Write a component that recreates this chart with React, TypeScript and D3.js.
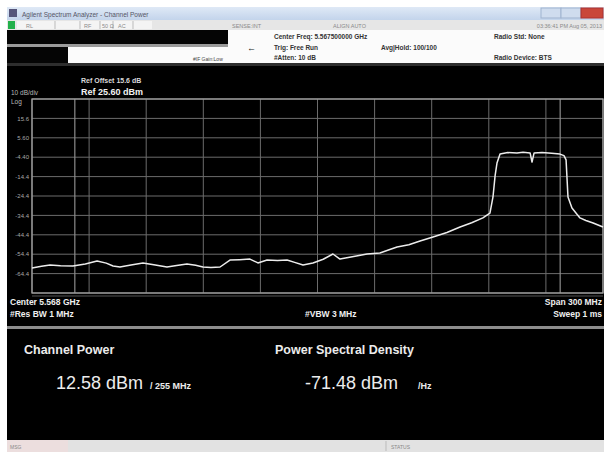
import React, { useEffect, useRef } from 'react';
import * as d3 from 'd3';

// trace (frequency in MHz, level in dBm)
const traceFreqMHz = [
  5418, 5423, 5427.5, 5433, 5439.5, 5446, 5452.2, 5457, 5460.6, 5464.2, 5470, 5476.3, 5482,
  5488.9, 5494, 5499.4, 5504, 5507.8, 5512, 5516.8, 5522, 5527, 5532.5, 5536.7, 5541.5, 5547,
  5552, 5556, 5560.4, 5565.6, 5571, 5576.1, 5579.8, 5587, 5594, 5600.8, 5606, 5609.8, 5616,
  5621.9, 5628.7, 5636, 5642.9, 5649, 5654.9, 5658.6, 5660.2, 5661.3, 5662.3, 5663.9, 5668,
  5672.8, 5676, 5679.7, 5680.7, 5681.8, 5686, 5691, 5695.4, 5697.5, 5698.6, 5699.6, 5701.7,
  5705.9, 5709, 5712.8, 5718,
];
const traceDbm = [
  -61.5, -60.6, -60.0, -60.3, -60.5, -59.4, -57.9, -59.0, -60.5, -61.0, -60.0, -58.9, -59.8,
  -61.0, -60.2, -59.4, -60.1, -61.0, -61.2, -61.0, -57.4, -57.2, -56.9, -58.9, -57.4, -57.6,
  -57.4, -58.6, -60.0, -58.9, -57.0, -54.3, -56.9, -55.6, -54.3, -53.8, -52.0, -50.7, -49.5,
  -47.6, -45.5, -43.2, -40.4, -38.2, -35.7, -33.2, -24.9, -14.0, -7.4, -2.8, -2.0, -2.2,
  -1.9, -2.2, -6.9, -2.2, -2.0, -2.4, -2.8, -3.6, -5.8, -24.9, -30.6, -35.7, -37.0, -38.3,
  -40.4,
];

const yTickLabels = ['15.6', '5.60', '-4.40', '-14.4', '-24.4', '-34.4', '-44.4', '-54.4', '-64.4'];

const refLevelDbm = 25.6;
const dbPerDiv = 10;
const centerMHz = 5568;
const spanMHz = 300;
const channelBwMHz = 255;

const FONT = '"Liberation Sans", Arial, sans-serif';

export default function App() {
  const svgRef = useRef<SVGSVGElement>(null);

  useEffect(() => {
    if (!svgRef.current) return;
    const svg = d3.select(svgRef.current);
    svg.selectAll('*').remove();

    // window chrome
    svg.append('rect').attr('x', 7).attr('y', 7).attr('width', 597).attr('height', 445).attr('fill', '#dcdcdc');

    const defs = svg.append('defs');
    const tg = defs.append('linearGradient').attr('id', 'titlebar').attr('x1', 0).attr('x2', 0).attr('y1', 0).attr('y2', 1);
    tg.append('stop').attr('offset', '0%').attr('stop-color', '#dfe9f6');
    tg.append('stop').attr('offset', '100%').attr('stop-color', '#c3d4eb');

    svg.append('rect').attr('x', 7).attr('y', 7).attr('width', 597).attr('height', 13).attr('fill', 'url(#titlebar)');
    svg.append('rect').attr('x', 9).attr('y', 9).attr('width', 8).attr('height', 8).attr('fill', '#55557a');
    svg.append('text').attr('x', 22).attr('y', 16.5).attr('font-size', 6.5).attr('fill', '#556').attr('font-family', FONT)
      .text('Agilent Spectrum Analyzer - Channel Power');

    // window buttons
    svg.append('rect').attr('x', 541).attr('y', 8).attr('width', 20).attr('height', 10).attr('fill', '#cfdcee').attr('stroke', '#9fb3cf');
    svg.append('rect').attr('x', 561).attr('y', 8).attr('width', 20).attr('height', 10).attr('fill', '#cfdcee').attr('stroke', '#9fb3cf');
    svg.append('rect').attr('x', 581).attr('y', 8).attr('width', 22).attr('height', 10).attr('fill', '#c9473b').attr('stroke', '#a33');

    // status row
    svg.append('rect').attr('x', 7).attr('y', 20).attr('width', 597).attr('height', 10).attr('fill', '#e6e6e6');
    svg.append('rect').attr('x', 8).attr('y', 21).attr('width', 7).attr('height', 8).attr('fill', '#22b04a');
    svg.append('rect').attr('x', 17).attr('y', 21).attr('width', 135).attr('height', 8).attr('fill', '#f4f4f4');
    [55, 80, 100, 113, 133].forEach(x => {
      svg.append('line').attr('x1', x).attr('x2', x).attr('y1', 21).attr('y2', 29).attr('stroke', '#bbb');
    });
    const rowText = [
      { x: 26, t: 'RL' }, { x: 84, t: 'RF' }, { x: 102, t: '50 Ω' }, { x: 118, t: 'AC' },
      { x: 232, t: 'SENSE:INT' }, { x: 333, t: 'ALIGN AUTO' },
    ];
    rowText.forEach(d => {
      svg.append('text').attr('x', d.x).attr('y', 27.5).attr('font-size', 5.5).attr('fill', '#8a8a8a')
        .attr('font-family', FONT).text(d.t);
    });
    svg.append('text').attr('x', 602).attr('y', 27.5).attr('font-size', 5.5).attr('fill', '#8a8a8a')
      .attr('text-anchor', 'end').attr('font-family', FONT).text('03:36:41 PM Aug 05, 2013');

    // settings panel
    svg.append('rect').attr('x', 7).attr('y', 30).attr('width', 597).attr('height', 33).attr('fill', '#fbfbfb');
    svg.append('rect').attr('x', 7).attr('y', 30).attr('width', 221).attr('height', 14).attr('fill', '#050505');
    svg.append('rect').attr('x', 7).attr('y', 44).attr('width', 221).attr('height', 3).attr('fill', '#9a9a9a');
    svg.append('rect').attr('x', 7).attr('y', 47).attr('width', 61).attr('height', 16).attr('fill', '#050505');
    svg.append('text').attr('x', 193).attr('y', 60.5).attr('font-size', 5).attr('fill', '#444').attr('font-family', FONT)
      .text('#IF Gain:Low');
    svg.append('text').attr('x', 247).attr('y', 51).attr('font-size', 9).attr('fill', '#222').attr('font-family', FONT).text('←');

    const info = [
      { x: 274, y: 38.5, t: 'Center Freq: 5.567500000 GHz' },
      { x: 274, y: 50, t: 'Trig: Free Run' },
      { x: 381, y: 50, t: 'Avg|Hold: 100/100' },
      { x: 274, y: 59.5, t: '#Atten: 10 dB' },
      { x: 494, y: 38.5, t: 'Radio Std: None' },
      { x: 494, y: 59.5, t: 'Radio Device: BTS' },
    ];
    info.forEach(d => {
      svg.append('text').attr('x', d.x).attr('y', d.y).attr('font-size', 6.5).attr('font-weight', 'bold')
        .attr('fill', '#333').attr('font-family', FONT).text(d.t);
    });

    // screen
    svg.append('rect').attr('x', 7).attr('y', 63).attr('width', 597).attr('height', 377).attr('fill', '#000');
    svg.append('rect').attr('x', 7).attr('y', 63).attr('width', 597).attr('height', 3).attr('fill', '#2e2e2e');

    const margin = { top: 99, left: 32, right: 603, bottom: 293 };
    const x = d3.scaleLinear()
      .domain([centerMHz - spanMHz / 2, centerMHz + spanMHz / 2])
      .range([margin.left, margin.right]);
    const y = d3.scaleLinear()
      .domain([refLevelDbm - 10 * dbPerDiv, refLevelDbm])
      .range([margin.bottom, margin.top]);

    const g = svg.append('g');

    // graticule
    const xGrid = d3.range(11).map(i => centerMHz - spanMHz / 2 + i * spanMHz / 10);
    const yGrid = d3.range(11).map(i => refLevelDbm - i * dbPerDiv);
    g.selectAll('.vgrid').data(xGrid).enter().append('line')
      .attr('x1', d => x(d)).attr('x2', d => x(d))
      .attr('y1', margin.top).attr('y2', margin.bottom)
      .attr('stroke', '#6c6c6c').attr('stroke-width', 1);
    g.selectAll('.hgrid').data(yGrid).enter().append('line')
      .attr('x1', margin.left).attr('x2', margin.right)
      .attr('y1', d => y(d)).attr('y2', d => y(d))
      .attr('stroke', '#6c6c6c').attr('stroke-width', 1);

    // integration bandwidth markers
    [centerMHz - channelBwMHz / 2, centerMHz + channelBwMHz / 2].forEach(f => {
      g.append('line').attr('x1', x(f)).attr('x2', x(f)).attr('y1', margin.top).attr('y2', margin.bottom)
        .attr('stroke', '#8c8c8c').attr('stroke-width', 1.2);
    });

    g.append('rect').attr('x', margin.left).attr('y', margin.top)
      .attr('width', margin.right - margin.left).attr('height', margin.bottom - margin.top)
      .attr('fill', 'none').attr('stroke', '#a0a0a0').attr('stroke-width', 1.3);
    g.append('line').attr('x1', margin.left).attr('x2', margin.right).attr('y1', margin.bottom + 3).attr('y2', margin.bottom + 3)
      .attr('stroke', '#555');

    // y tick labels
    g.selectAll('.ylab').data(yTickLabels).enter().append('text')
      .attr('x', 29).attr('y', (d, i) => y(refLevelDbm - (i + 1) * dbPerDiv))
      .attr('dy', '0.35em').attr('text-anchor', 'end')
      .attr('font-size', 6).attr('fill', '#a8a8a8').attr('font-family', FONT).text(d => d);
    g.append('text').attr('x', 11).attr('y', 104).attr('font-size', 6.5).attr('fill', '#b8b8b8').attr('font-family', FONT).text('Log');
    g.append('text').attr('x', 11).attr('y', 94.5).attr('font-size', 6.5).attr('fill', '#b8b8b8').attr('font-family', FONT).text('10 dB/div');
    g.append('text').attr('x', 81).attr('y', 83).attr('font-size', 7).attr('font-weight', 'bold').attr('fill', '#d8d8d8')
      .attr('font-family', FONT).text('Ref Offset 15.6 dB');
    g.append('text').attr('x', 81).attr('y', 95).attr('font-size', 9).attr('font-weight', 'bold').attr('fill', '#f4f4f4')
      .attr('font-family', FONT).text('Ref 25.60 dBm');

    // trace
    const pts = traceFreqMHz.map((f, i) => [f, traceDbm[i]] as [number, number]);
    const line = d3.line<[number, number]>().x(d => x(d[0])).y(d => y(d[1]));
    g.append('path').attr('d', line(pts) as string)
      .attr('fill', 'none').attr('stroke', '#ececec').attr('stroke-width', 1.5).attr('stroke-linejoin', 'round');

    // bottom annotations
    const ann = [
      { x: 10, y: 304.5, t: 'Center  5.568 GHz', a: 'start' },
      { x: 10, y: 316.5, t: '#Res BW  1 MHz', a: 'start' },
      { x: 305, y: 316.5, t: '#VBW  3 MHz', a: 'start' },
      { x: 602, y: 304.5, t: 'Span  300 MHz', a: 'end' },
      { x: 602, y: 316.5, t: 'Sweep  1 ms', a: 'end' },
    ];
    ann.forEach(d => {
      g.append('text').attr('x', d.x).attr('y', d.y).attr('text-anchor', d.a).attr('font-size', 8.5)
        .attr('font-weight', 'bold').attr('fill', '#f0f0f0').attr('font-family', FONT).text(d.t);
    });

    svg.append('rect').attr('x', 7).attr('y', 326).attr('width', 597).attr('height', 3).attr('fill', '#8d8d8d');

    // results panel
    const res = svg.append('g').attr('font-family', FONT).attr('fill', '#ececec');
    res.append('text').attr('x', 24).attr('y', 354).attr('font-size', 12.5).attr('font-weight', 'bold').text('Channel Power');
    res.append('text').attr('x', 275).attr('y', 354).attr('font-size', 12.5).attr('font-weight', 'bold').text('Power Spectral Density');
    res.append('text').attr('x', 56).attr('y', 389).attr('font-size', 18).text('12.58 dBm');
    res.append('text').attr('x', 150).attr('y', 389).attr('font-size', 9).attr('font-weight', 'bold').text('/ 255 MHz');
    res.append('text').attr('x', 305).attr('y', 389).attr('font-size', 18).text('-71.48 dBm');
    res.append('text').attr('x', 418).attr('y', 389).attr('font-size', 9).attr('font-weight', 'bold').text('/Hz');

    // message bar
    svg.append('rect').attr('x', 7).attr('y', 440).attr('width', 597).attr('height', 12).attr('fill', '#e2e2e2');
    svg.append('rect').attr('x', 7).attr('y', 440).attr('width', 61).attr('height', 12).attr('fill', '#ecdede');
    svg.append('line').attr('x1', 386).attr('x2', 386).attr('y1', 441).attr('y2', 451).attr('stroke', '#bbb');
    svg.append('text').attr('x', 10).attr('y', 448.5).attr('font-size', 5).attr('fill', '#888').attr('font-family', FONT).text('MSG');
    svg.append('text').attr('x', 391).attr('y', 448.5).attr('font-size', 5).attr('fill', '#888').attr('font-family', FONT).text('STATUS');
  }, []);

  return (
    <svg
      ref={svgRef}
      width={606}
      height={455}
      style={{ position: 'absolute', left: 0, top: 0, background: '#fff' }}
    />
  );
}
